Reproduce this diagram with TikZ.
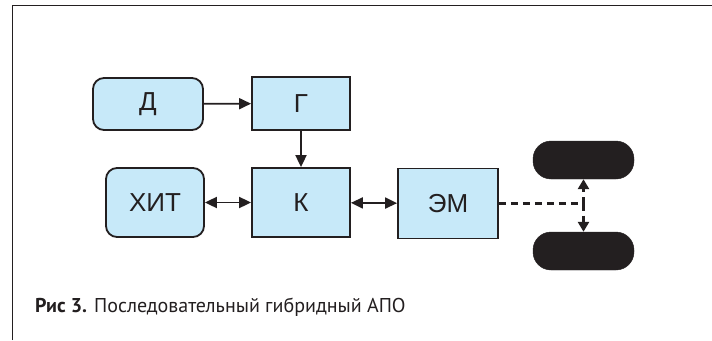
\documentclass[tikz,border=0pt]{standalone}
\usepackage{fontspec}
\setmainfont{Liberation Sans}
\newfontfamily\capfont{PT Sans}
\usetikzlibrary{arrows.meta}
\usetikzlibrary{positioning}

\definecolor{boxblue}{HTML}{C7E9F9}
\definecolor{ink}{HTML}{231F20}

\tikzset{
  unitbox/.style={draw=ink, line width=1.8pt, fill=boxblue, inner sep=0pt,
    font=\fontsize{26}{26}\selectfont, text=ink},
  roundbox/.style={unitbox, rounded corners=11pt},
  wheel/.style={draw=ink, fill=ink, rounded corners=18pt, minimum width=101pt,
    minimum height=38pt},
  link/.style={ink, line width=1.8pt, -{Triangle[length=12pt,width=11pt]}},
  twolink/.style={ink, line width=1.8pt, {Triangle[length=12pt,width=11pt]}-{Triangle[length=12pt,width=11pt]}},
  drive/.style={ink, line width=3.5pt, dash pattern=on 7pt off 5pt},
}

\begin{document}
\begin{tikzpicture}[x=1pt,y=-1pt]
\useasboundingbox (0,0) rectangle (712,340);

% frame
\draw[ink, line width=1pt] (12,340) -- (12,5) -- (712,5);

% top row
\node[roundbox, minimum width=110pt, minimum height=52pt] (d) at (148,104) {Д};
\node[unitbox, minimum width=98pt, minimum height=53pt] (g) at (301,103.5) {Г};

% middle row
\node[roundbox, minimum width=98pt, minimum height=69pt] (hit) at (155,202.5) {ХИТ};
\node[unitbox, minimum width=98pt, minimum height=69pt] (k) at (301,202.5) {К};
\node[unitbox, minimum width=100pt, minimum height=70pt] (em) at (448,203.5) {ЭМ};

% wheels
\node[wheel] (wtop) at (583.5,160) {};
\node[wheel] (wbot) at (583.5,251) {};
\coordinate (axle) at (wtop.south |- em.east);

% connections
\draw[link] (d) -- (g);
\draw[link] (g) -- (k);
\draw[twolink] (hit) -- (k);
\draw[twolink] (k) -- (em);

% mechanical drive
\draw[drive] (em.east) -- (axle);
\draw[drive, -{Triangle[length=10pt,width=11pt]}] (axle) -- (wtop.south);
\draw[drive, -{Triangle[length=10pt,width=11pt]}] (axle) -- (wbot.north);

% caption
\node[anchor=west, inner sep=0pt, font=\capfont\fontsize{20}{20}\selectfont, text=ink] (cap) at (35,307)
  {\textbf{Рис 3.} Последовательный гибридный АПО};

\end{tikzpicture}
\end{document}
